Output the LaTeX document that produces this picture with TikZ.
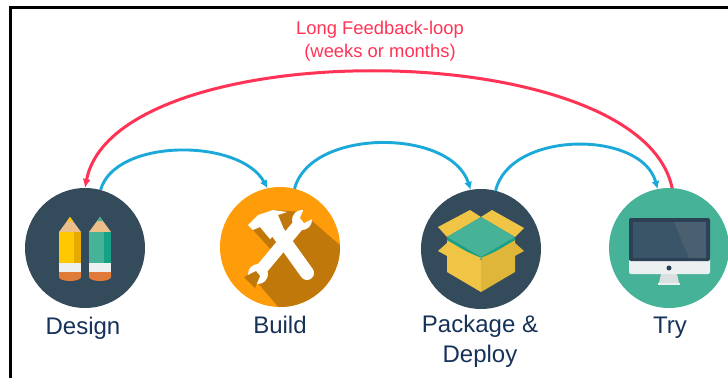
\documentclass[tikz,border=0pt]{standalone}
\usepackage{xcolor}
\usepackage{fontspec}
\setmainfont{Liberation Sans}
\usetikzlibrary{arrows.meta}
\definecolor{slate}{RGB}{52, 75, 92}
\definecolor{screen}{RGB}{58, 85, 104}
\definecolor{glare}{RGB}{74, 96, 112}
\definecolor{bezel}{RGB}{44, 65, 85}
\definecolor{tool}{RGB}{255, 156, 10}
\definecolor{toolshade}{RGB}{193, 120, 10}
\definecolor{teal}{RGB}{70, 178, 152}
\definecolor{tealdark}{RGB}{22, 160, 133}
\definecolor{navy}{RGB}{22, 50, 88}
\definecolor{loopblue}{RGB}{27, 169, 217}
\definecolor{loopred}{RGB}{255, 51, 85}
\definecolor{boxlight}{RGB}{240, 197, 70}
\definecolor{boxdark}{RGB}{224, 182, 58}
\definecolor{wood}{RGB}{236, 190, 138}
\definecolor{rubber}{RGB}{224, 123, 57}
\definecolor{band}{RGB}{236, 240, 241}
\definecolor{pencilmain}{RGB}{255, 200, 0}
\definecolor{pencilside}{RGB}{229, 171, 0}
\begin{document}
\begin{tikzpicture}[x=1pt,y=1pt,
	stage/.style={circle,minimum size=120pt,inner sep=0pt,outer sep=0pt},
	caption/.style={font=\fontsize{24}{30}\selectfont,text=navy,align=center,inner sep=0pt},
	shortloop/.style={-{Latex[length=8pt,width=8pt]},loopblue,line width=2.9pt},
	longloop/.style={-{Latex[length=9pt,width=8pt]},loopred,line width=3pt}]
	\useasboundingbox (0,-378) rectangle (728,0);
	\draw [line width=2.8pt] (10.7,-378) -- (10.7,-7.5) -- (728,-7.5);
	
	\node[stage,fill=slate] (design) at(85,-248) {};
	\node[stage,fill=tool] (build) at(280,-247) {};
	\node[stage,fill=slate] (package) at(481,-249) {};
	\node[stage,fill=teal] (try) at(669,-248) {};
	
	\node[caption,anchor=base] (designlabel) at(83,-334) {Design};
	\node[caption,anchor=base] (buildlabel) at(280,-333) {Build};
	\node[caption,anchor=center] (packagelabel) at(480,-341.5) {Package \&\\Deploy};
	\node[caption,anchor=base] (trylabel) at(670,-333) {Try};
	\node[font=\fontsize{18.4}{23}\selectfont,text=loopred,align=center,inner sep=0pt] (looplabel) at(380,-41.5) {Long Feedback-loop\\(weeks or months)};
	
	% pencils
	\begin{scope}[shift={(design.center)},yscale=-1]
	\foreach \px/\main/\side in {-15/pencilmain/pencilside,15/teal/tealdark} {
		\fill[wood] (\px-11,-16) -- (\px,-31) -- (\px+11,-16) -- cycle;
		\fill[\main] (\px-3,-27) -- (\px,-31) -- (\px+3,-27) -- cycle;
		\fill[\main] (\px-11,-16) rectangle (\px+11,15);
		\fill[\side] (\px+4,-16) rectangle (\px+11,15);
		\fill[band] (\px-11,15) rectangle (\px+11,24);
		\fill[rubber] (\px-11,24) -- (\px+11,24) -- (\px+11,29) arc (0:180:11 and 4) -- cycle;
	}
	\end{scope}
	
	% hammer and wrench
	\begin{scope}[shift={(build.center)},yscale=-1]
	\begin{scope}
	\clip (0,0) circle (60);
	\fill[toolshade] (-27,-17) -- (-7,5) -- (-30,27) -- (0,62) -- (62,62) -- (62,0) -- (22,-35) -- (-7,-37) -- cycle;
	\end{scope}
	\fill[white] (-32,-22) -- (-22,-32) -- (-7,-37) -- (7,-35) -- (-2,-32) -- (3,-20) -- (-10,-8) -- (-20,-20) -- (-27,-17) -- cycle;
	\draw[white,line width=14pt,line cap=round] (-6,-20) -- (27,26);
	\draw[white,line width=12pt] (20,-24) -- (-20,24);
	\fill[white] (22,-27) circle (10);
	\fill[white] (-22,27) circle (10);
	\fill[tool] (20,-29) -- (25,-41) -- (36,-30) -- (24,-24) -- cycle;
	\fill[toolshade] (-20,29) -- (-25,41) -- (-36,30) -- (-24,24) -- cycle;
	\end{scope}
	
	% open box
	\begin{scope}[shift={(package.center)},yscale=-1]
	\fill[boxlight] (-43,-22) -- (-11,-39) -- (0,-32) -- (-34,-12) -- cycle;
	\fill[boxlight] (43,-21) -- (11,-39) -- (0,-32) -- (34,-12) -- cycle;
	\fill[boxlight] (-34,-9) -- (0,8) -- (0,43) -- (-34,23) -- cycle;
	\fill[boxdark] (34,-9) -- (0,8) -- (0,43) -- (34,23) -- cycle;
	\fill[tealdark] (-34,-12) -- (0,8) -- (34,-12) -- (34,-9) -- (0,11) -- (-34,-9) -- cycle;
	\fill[teal] (0,-32) -- (34,-12) -- (0,8) -- (-34,-12) -- cycle;
	\fill[boxlight] (-34,-6) -- (-43,2) -- (-10,20) -- (0,9) -- cycle;
	\fill[boxdark] (34,-6) -- (43,2) -- (10,20) -- (0,9) -- cycle;
	\end{scope}
	
	% monitor
	\begin{scope}[shift={(try.center)},yscale=-1]
	\fill[band!85!gray] (-8,26) -- (8,26) -- (10,35) -- (-10,35) -- cycle;
	\fill[band] (-11,35) rectangle (11,37);
	\fill[band,rounded corners=2pt] (-40,5) rectangle (41,26);
	\fill[bezel,rounded corners=2pt] (-40,-30) rectangle (41,13);
	\fill[screen] (-36,-26) rectangle (37,10);
	\fill[glare] (5,-26) -- (37,-26) -- (37,10) -- (20,10) -- cycle;
	\fill[bezel] (0,20) circle (2.5);
	\end{scope}
	
	\draw [shortloop] (design.75) .. controls (115,-138) and (240,-138) .. (build.102);
	\draw [shortloop] (build.76) .. controls (310,-128) and (451,-128) .. (package.100);
	\draw [shortloop] (package.76) .. controls (510,-130) and (642,-130) .. (try.101);
	\draw [longloop] (try.87) .. controls (640,-33) and (115,-33) .. (design.90);
	
\end{tikzpicture}
\end{document}
